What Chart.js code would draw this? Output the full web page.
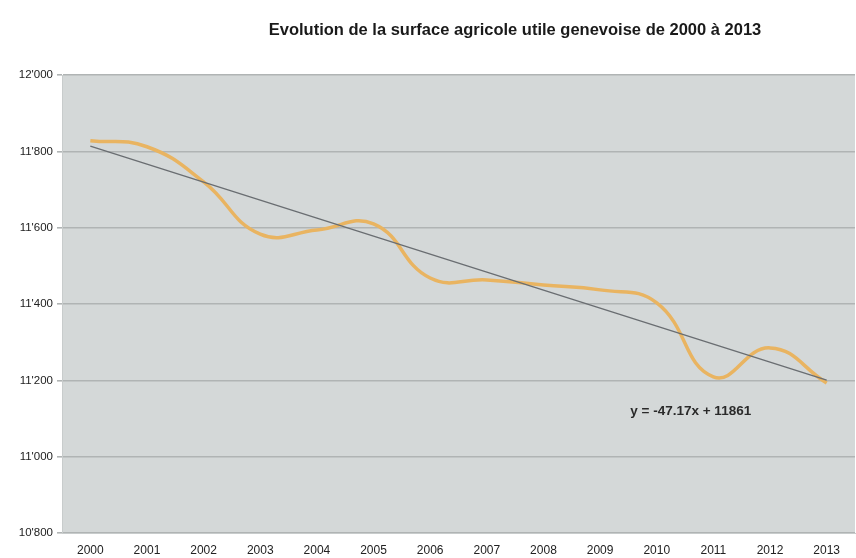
<!DOCTYPE html>
<html>
<head>
<meta charset="utf-8">
<script src="https://cdn.jsdelivr.net/npm/chart.js@4/dist/chart.umd.min.js"></script>
<style>
  html, body { margin: 0; padding: 0; background: #ffffff; }
  #wrap { width: 856px; height: 558px; position: relative; }
</style>
</head>
<body>
<div id="wrap"><canvas id="myChart" width="856" height="558"></canvas></div>
<script>
const chartTitle = "Evolution de la surface agricole utile genevoise de 2000 à 2013";
const years = ["2000", "2001", "2002", "2003", "2004", "2005", "2006", "2007", "2008", "2009", "2010", "2011", "2012", "2013"];
const surface = [11828, 11812, 11720, 11583, 11594, 11610, 11468, 11463, 11450, 11437, 11403, 11209, 11285, 11193];
const yTicks = [10800, 11000, 11200, 11400, 11600, 11800, 12000];

// linear trend shown on the chart: y = -47.17x + 11861 (x = 1 for 2000)
const trendSlope = -47.17;
const trendIntercept = 11861;
const trendLabel = "y = -47.17x + 11861";
const trend = years.map((_, i) => trendSlope * (i + 1) + trendIntercept);

function formatThousands(v) {
  const s = String(v);
  return s.slice(0, s.length - 3) + "'" + s.slice(-3);
}

const plotBackground = {
  id: "plotBackground",
  beforeDraw(chart) {
    const { ctx, chartArea } = chart;
    ctx.save();
    ctx.fillStyle = "#d4d8d8";
    ctx.fillRect(chartArea.left, chartArea.top, chartArea.right - chartArea.left, chartArea.bottom - chartArea.top);
    ctx.restore();
  },
  afterDraw(chart) {
    const { ctx } = chart;
    const xs = chart.scales.x;
    const ys = chart.scales.y;
    ctx.save();
    ctx.fillStyle = "#1a1a1a";
    ctx.font = "bold 16.5px 'Liberation Sans', Arial, sans-serif";
    ctx.textAlign = "center";
    ctx.textBaseline = "middle";
    ctx.fillText(chartTitle, 515, 30);
    ctx.font = "bold 13.5px 'Liberation Sans', Arial, sans-serif";
    ctx.fillStyle = "#2a2a2a";
    ctx.fillText(trendLabel, xs.getPixelForValue(10.6), ys.getPixelForValue(11120));
    ctx.restore();
  }
};

const ctx = document.getElementById("myChart").getContext("2d");
const myChart = new Chart(ctx, {
  type: "line",
  data: {
    labels: years,
    datasets: [
      {
        label: "Surface agricole utile",
        data: surface,
        borderColor: "#e9b461",
        borderWidth: 3.5,
        pointRadius: 0,
        tension: 0.45,
        fill: false,
        order: 2,
      },
      {
        label: "Tendance",
        data: trend,
        borderColor: "#6a6e72",
        borderWidth: 1.4,
        pointRadius: 0,
        tension: 0,
        fill: false,
        order: 1,
      },
    ],
  },
  options: {
    responsive: false,
    animation: false,
    layout: { padding: { top: 75, right: 1, left: 0, bottom: 0 } },
    plugins: {
      legend: { display: false },
      title: { display: false },
      tooltip: { enabled: false },
    },
    scales: {
      x: {
        offset: true,
        grid: { display: false },
        border: { color: "#c8cccc" },
        ticks: {
          color: "#222",
          font: { family: "'Liberation Sans', Arial, sans-serif", size: 12 },
          maxRotation: 0,
          autoSkip: false,
          padding: 2,
        },
        afterFit(scale) { scale.height = 25; },
      },
      y: {
        min: 10800,
        max: 12000,
        afterBuildTicks(scale) { scale.ticks = yTicks.map((v) => ({ value: v })); },
        grid: { color: "#b0b4b4", lineWidth: 1.6, tickLength: 5 },
        border: { color: "#c8cccc" },
        ticks: {
          color: "#222",
          font: { family: "'Liberation Sans', Arial, sans-serif", size: 11.5 },
          padding: 4,
          callback: (v) => formatThousands(v),
        },
        afterFit(scale) { scale.width = 62; },
      },
    },
  },
  plugins: [plotBackground],
});
</script>
</body>
</html>
